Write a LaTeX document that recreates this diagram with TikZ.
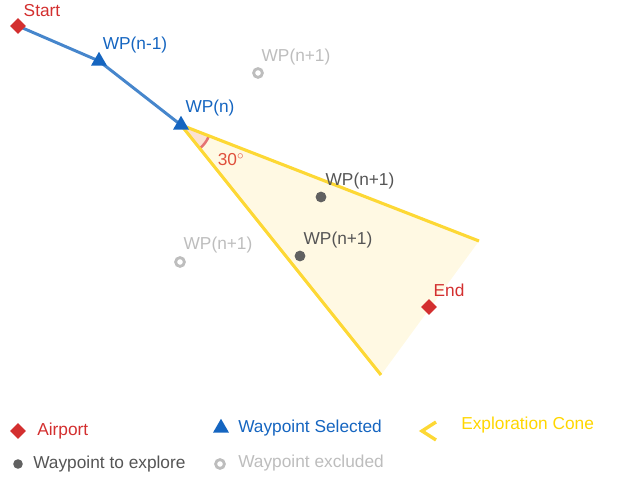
\documentclass[tikz,border=0pt]{standalone}
\usepackage{fontspec}
\setmainfont{Liberation Sans}
\usetikzlibrary{shapes.geometric,backgrounds}
\definecolor{airred}{RGB}{211,47,47}
\definecolor{routeblue}{RGB}{70,134,204}
\definecolor{selblue}{RGB}{21,101,192}
\definecolor{wpdark}{RGB}{97,97,97}
\definecolor{textdark}{RGB}{85,85,85}
\definecolor{wplight}{RGB}{189,189,189}
\definecolor{conegold}{RGB}{253,216,53}
\definecolor{conefill}{RGB}{255,249,227}
\definecolor{legendgold}{RGB}{255,214,0}
\definecolor{anglered}{RGB}{229,115,115}
\definecolor{anglefill}{RGB}{251,225,210}
\definecolor{angletext}{RGB}{224,80,60}
\begin{document}
\begin{tikzpicture}[x=0.025cm, y=0.025cm,
    lbl/.style={font=\fontsize{12.3}{14}\selectfont, inner sep=0pt},
    airport/.style={diamond, fill=airred, inner sep=0pt, minimum size=0.4cm},
    selected/.style={regular polygon, regular polygon sides=3, fill=selblue, inner sep=0pt, minimum size=0.46cm},
    explore/.style={circle, fill=wpdark, inner sep=0pt, minimum size=0.27cm},
    excluded/.style={circle, draw=wplight, line width=2pt, inner sep=0pt, minimum size=0.22cm},
    route/.style={line width=2.1pt, routeblue},
    cone/.style={line width=2.2pt, conegold}
  ]
  \useasboundingbox (0,0) rectangle (617,477);
  % waypoints
  \node[airport] (start) at (18,451) {};
  \node[selected] (wpa) at (99,416) {};
  \node[selected] (wpn) at (181,352) {};
  \node[excluded] (exa) at (258,404) {};
  \node[excluded] (exb) at (180,215) {};
  \node[explore] (dota) at (321,280) {};
  \node[explore] (dotb) at (300,221) {};
  \node[airport] (end) at (429,170) {};
  \coordinate (cone1) at (479,236);
  \coordinate (cone2) at (381,102);
  % labels
  \node[lbl, airred] (lstart) at (42,466) {Start};
  \node[lbl, selblue] (lwpa) at (135,432) {WP(n-1)};
  \node[lbl, selblue] (lwpn) at (210,369) {WP(n)};
  \node[lbl, wplight] (lexa) at (296,420) {WP(n+1)};
  \node[lbl, wplight] (lexb) at (218,232) {WP(n+1)};
  \node[lbl, textdark] (ldota) at (360,296) {WP(n+1)};
  \node[lbl, textdark] (ldotb) at (338,237) {WP(n+1)};
  \node[lbl, airred] (lend) at (449,187) {End};
  \node[lbl, angletext] (lang) at (231,317) {30$^\circ$};
  \begin{scope}[on background layer]
    \fill[conefill] (wpn.center) -- (cone1) -- (cone2) -- cycle;
    \fill[anglefill] (wpn.center) -- ++(-51.3:30) arc[start angle=-51.3, end angle=-21.3, radius=30] -- cycle;
    \draw[anglered, line width=1.8pt] (wpn.center) ++(-51.3:30) arc[start angle=-51.3, end angle=-21.3, radius=30];
    \draw[cone] (cone1) -- (wpn.center) -- (cone2);
    \draw[route] (start.center) -- (wpa.center) -- (wpn.center);
  \end{scope}
  % legend
  \node[airport] (kair) at (18,46) {};
  \node[lbl, airred, anchor=west] (tair) at (37,46) {Airport};
  \node[selected] (ksel) at (221,49) {};
  \node[lbl, selblue, anchor=west] (tsel) at (238,49) {Waypoint Selected};
  \draw[cone, line width=2.4pt] (436,55) -- (422,46) -- (436,37);
  \node[lbl, legendgold, anchor=west] (tcone) at (461,52) {Exploration Cone};
  \node[explore, minimum size=0.24cm] (kexp) at (18,13) {};
  \node[lbl, textdark, anchor=west] (texp) at (33,13) {Waypoint to explore};
  \node[excluded] (kexc) at (220,13) {};
  \node[lbl, wplight, anchor=west] (texc) at (238,14) {Waypoint excluded};
\end{tikzpicture}
\end{document}
